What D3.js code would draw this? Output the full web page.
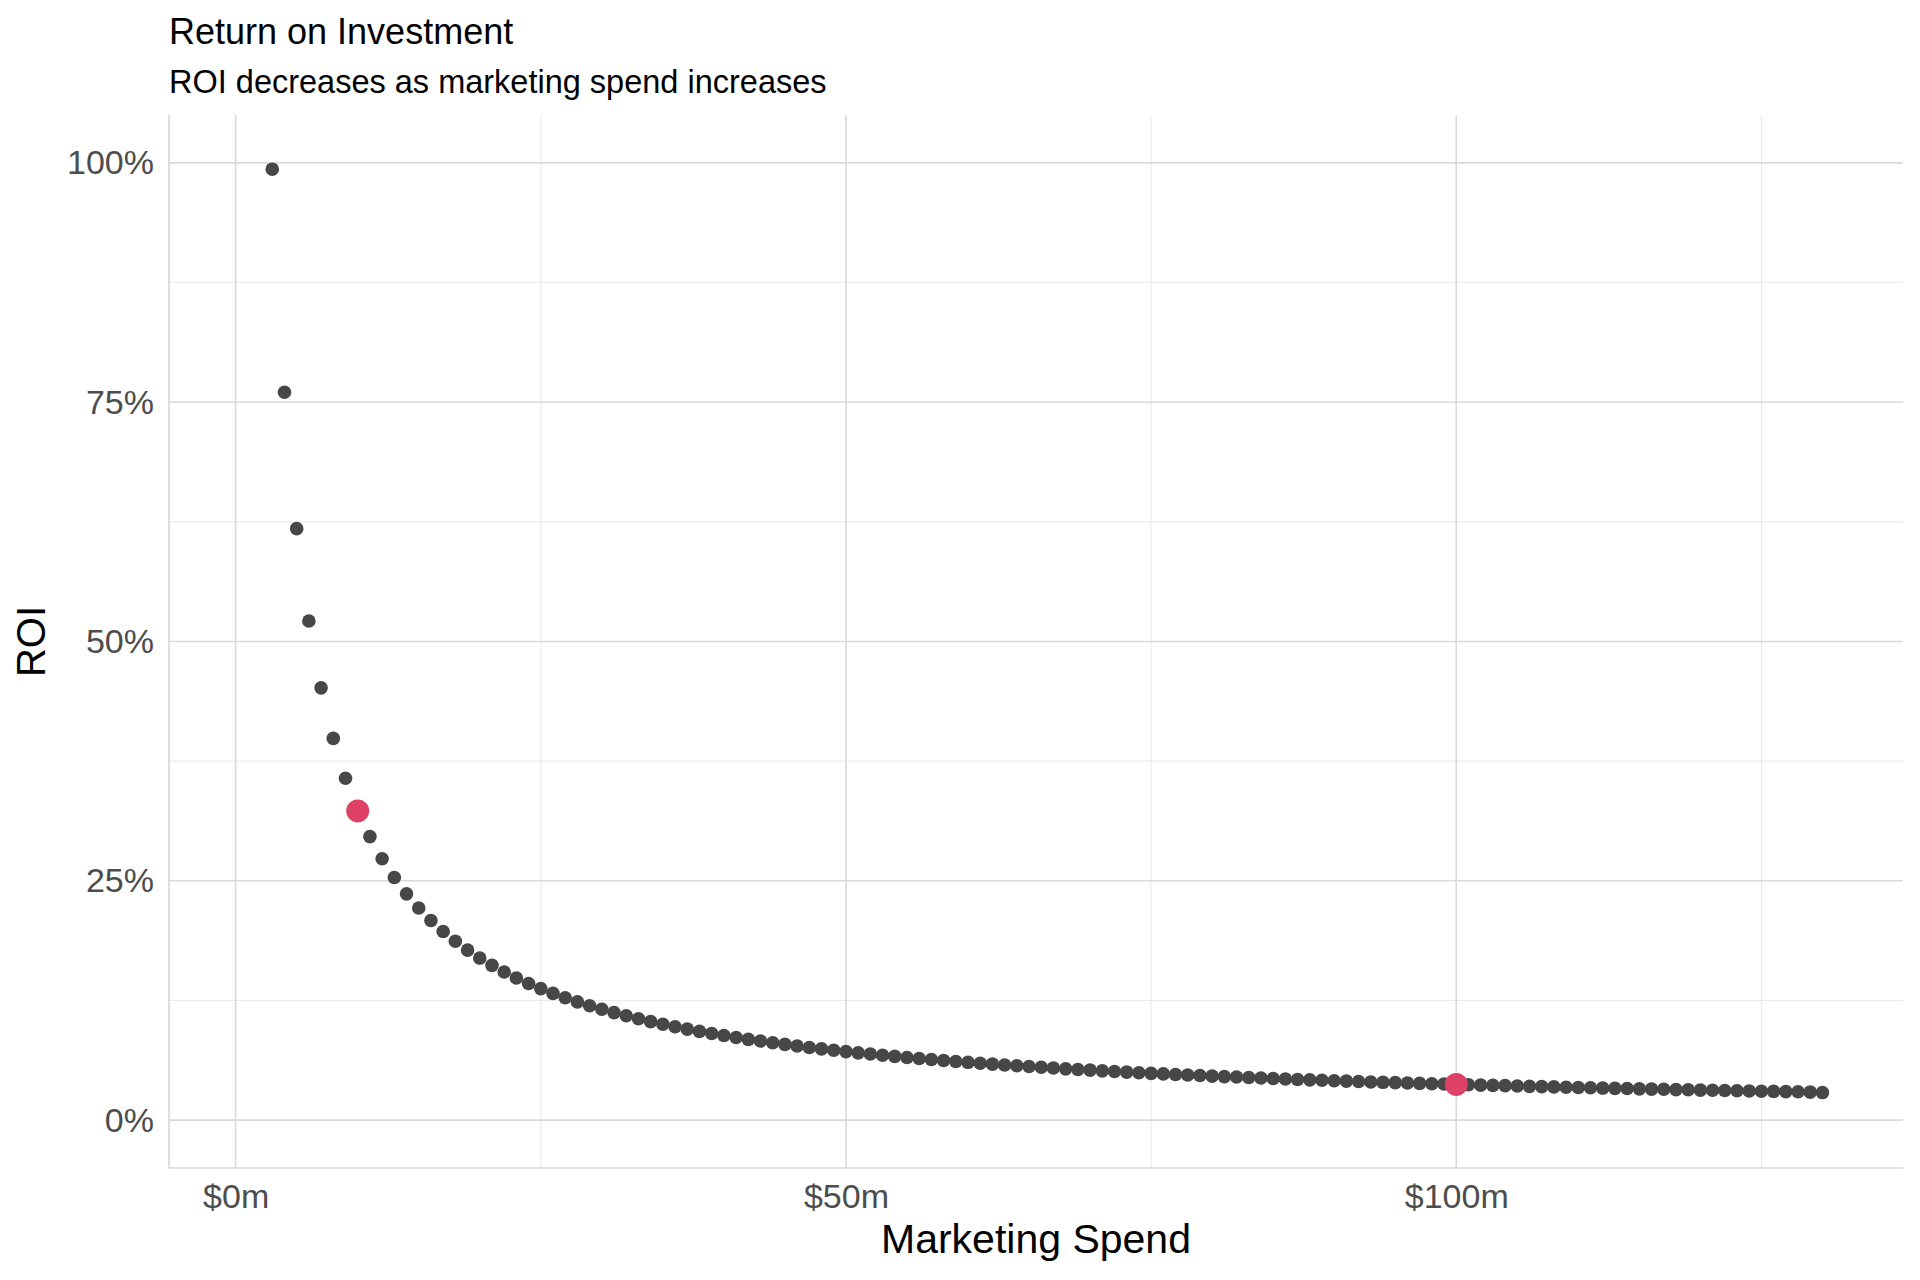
<!DOCTYPE html>
<html>
<head>
<meta charset="utf-8">
<script src="https://d3js.org/d3.v7.min.js"></script>
<style>
body { margin: 0; background: #fff; }
* { font-family: "Liberation Sans", Arial, sans-serif; }
</style>
</head>
<body>
<svg id="chart"></svg>
<script>
// marketing spend in $m
var spend = [3, 4, 5, 6, 7, 8, 9, 10, 11, 12, 13, 14, 15, 16, 17, 18, 19, 20,
  21, 22, 23, 24, 25, 26, 27, 28, 29, 30, 31, 32, 33, 34, 35, 36, 37, 38, 39, 40,
  41, 42, 43, 44, 45, 46, 47, 48, 49, 50, 51, 52, 53, 54, 55, 56, 57, 58, 59, 60,
  61, 62, 63, 64, 65, 66, 67, 68, 69, 70, 71, 72, 73, 74, 75, 76, 77, 78, 79, 80,
  81, 82, 83, 84, 85, 86, 87, 88, 89, 90, 91, 92, 93, 94, 95, 96, 97, 98, 99, 100,
  101, 102, 103, 104, 105, 106, 107, 108, 109, 110, 111, 112, 113, 114, 115, 116,
  117, 118, 119, 120, 121, 122, 123, 124, 125, 126, 127, 128, 129, 130];

// ROI in percent
var roi = [99.34, 76.04, 61.79, 52.14, 45.16, 39.88, 35.72, 32.3, 29.62, 27.31,
  25.34, 23.64, 22.16, 20.86, 19.71, 18.69, 17.76, 16.93, 16.17, 15.48,
  14.85, 14.27, 13.74, 13.24, 12.78, 12.35, 11.95, 11.58, 11.23, 10.90,
  10.59, 10.29, 10.02, 9.76, 9.51, 9.27, 9.05, 8.84, 8.63, 8.44,
  8.26, 8.08, 7.91, 7.75, 7.59, 7.44, 7.30, 7.16, 7.03, 6.91,
  6.78, 6.66, 6.55, 6.44, 6.33, 6.23, 6.13, 6.04, 5.94, 5.85,
  5.76, 5.68, 5.60, 5.52, 5.44, 5.36, 5.29, 5.22, 5.15, 5.08,
  5.02, 4.95, 4.89, 4.83, 4.77, 4.71, 4.66, 4.60, 4.55, 4.50,
  4.45, 4.40, 4.35, 4.30, 4.25, 4.21, 4.16, 4.12, 4.08, 4.04,
  3.99, 3.95, 3.92, 3.88, 3.84, 3.80, 3.77, 3.73, 3.70, 3.66,
  3.63, 3.60, 3.56, 3.53, 3.50, 3.47, 3.44, 3.41, 3.38, 3.35,
  3.32, 3.30, 3.27, 3.24, 3.22, 3.19, 3.17, 3.14, 3.12, 3.09,
  3.07, 3.05, 3.02, 3.00, 2.98, 2.96, 2.93, 2.88];

var highlightSpend = [10, 100];

var xTicks = [0, 50, 100];
var xMinorTicks = [25, 75, 125];
var yTicks = [0, 25, 50, 75, 100];
var yMinorTicks = [12.5, 37.5, 62.5, 87.5];

var width = 1920, height = 1280;
var panel = {left: 169, right: 1903, top: 115, bottom: 1168};

var data = spend.map(function (s, i) { return {spend: s, roi: roi[i]}; });
var highlighted = data.filter(function (d) { return highlightSpend.indexOf(d.spend) >= 0; });

var svg = d3.select("#chart").attr("width", width).attr("height", height);

var x = d3.scaleLinear().domain([-5.46, 136.6]).range([panel.left, panel.right]);
var y = d3.scaleLinear().domain([-5, 105]).range([panel.bottom, panel.top]);

// grid
var grid = svg.append("g");
grid.selectAll(".xminor").data(xMinorTicks).enter().append("line")
  .attr("x1", x).attr("x2", x).attr("y1", panel.top).attr("y2", panel.bottom)
  .attr("stroke", "#ebebeb").attr("stroke-width", 1.1);
grid.selectAll(".yminor").data(yMinorTicks).enter().append("line")
  .attr("y1", y).attr("y2", y).attr("x1", panel.left).attr("x2", panel.right)
  .attr("stroke", "#ebebeb").attr("stroke-width", 1.1);
grid.selectAll(".xmajor").data(xTicks).enter().append("line")
  .attr("x1", x).attr("x2", x).attr("y1", panel.top).attr("y2", panel.bottom)
  .attr("stroke", "#dadada").attr("stroke-width", 1.6);
grid.selectAll(".ymajor").data(yTicks).enter().append("line")
  .attr("y1", y).attr("y2", y).attr("x1", panel.left).attr("x2", panel.right)
  .attr("stroke", "#dadada").attr("stroke-width", 1.6);

// axis lines (left + bottom only)
svg.append("line").attr("x1", panel.left).attr("x2", panel.left)
  .attr("y1", panel.top).attr("y2", panel.bottom)
  .attr("stroke", "#d6d6d6").attr("stroke-width", 1.6);
svg.append("line").attr("x1", panel.left).attr("x2", panel.right)
  .attr("y1", panel.bottom).attr("y2", panel.bottom)
  .attr("stroke", "#d6d6d6").attr("stroke-width", 1.6);

// axes (labels only)
var xAxis = svg.append("g").attr("transform", "translate(0," + panel.bottom + ")")
  .call(d3.axisBottom(x).tickValues(xTicks).tickSize(0).tickPadding(16)
    .tickFormat(function (d) { return "$" + d + "m"; }));
var yAxis = svg.append("g").attr("transform", "translate(" + panel.left + ",0)")
  .call(d3.axisLeft(y).tickValues(yTicks).tickSize(0).tickPadding(15)
    .tickFormat(function (d) { return d + "%"; }));
[xAxis, yAxis].forEach(function (a) {
  a.select(".domain").remove();
  a.selectAll("text").style("font-size", "34px").attr("fill", "#4d4d4d")
    .style("font-family", "Liberation Sans, Arial, sans-serif");
});

// points
svg.append("g").selectAll("circle").data(data).enter().append("circle")
  .attr("cx", function (d) { return x(d.spend); })
  .attr("cy", function (d) { return y(d.roi); })
  .attr("r", 6.8)
  .attr("fill", "#474747");

svg.append("g").selectAll("circle").data(highlighted).enter().append("circle")
  .attr("cx", function (d) { return x(d.spend); })
  .attr("cy", function (d) { return y(d.roi); })
  .attr("r", 11.5)
  .attr("fill", "#dd4166");

// titles
svg.append("text").attr("x", panel.left).attr("y", 44)
  .style("font-size", "36px").attr("fill", "#000")
  .text("Return on Investment");
svg.append("text").attr("x", panel.left).attr("y", 93)
  .style("font-size", "32.5px").attr("fill", "#000")
  .text("ROI decreases as marketing spend increases");

svg.append("text").attr("x", (panel.left + panel.right) / 2).attr("y", 1253)
  .attr("text-anchor", "middle").style("font-size", "41px").attr("fill", "#000")
  .text("Marketing Spend");
svg.append("text")
  .attr("transform", "translate(45," + (panel.top + panel.bottom) / 2 + ") rotate(-90)")
  .attr("text-anchor", "middle").style("font-size", "40px").attr("fill", "#000")
  .text("ROI");
</script>
</body>
</html>
